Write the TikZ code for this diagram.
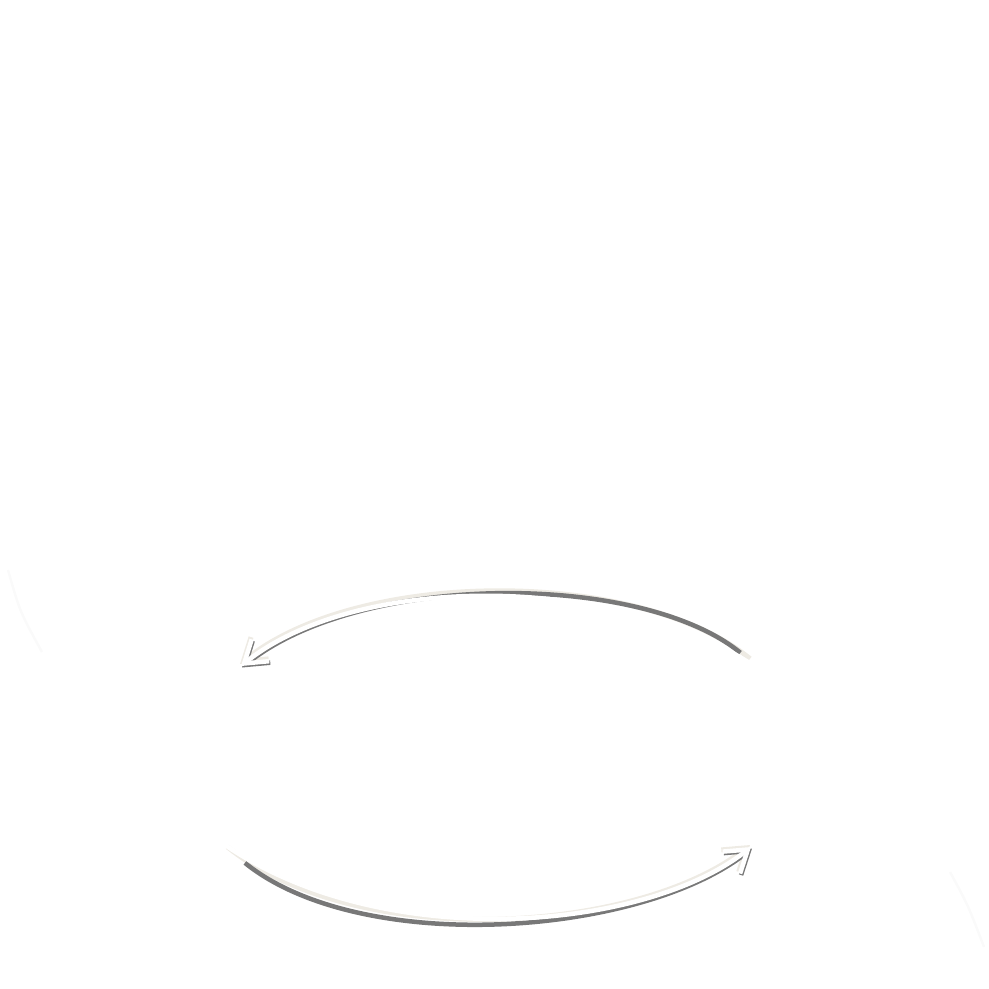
\documentclass[tikz,border=0pt]{standalone}
\usetikzlibrary{arrows.meta}
\definecolor{rimcol}{RGB}{238,235,228}
\definecolor{shadowcol}{RGB}{120,120,120}
\begin{document}
\begin{tikzpicture}[x=0.1mm, y=-0.1mm, >={Straight Barb[length=2.1mm, width=2.8mm]},
    rimline/.style={line width=0.5mm, rimcol, transform canvas={xshift=-0.1mm, yshift=0.2mm}},
    shadowline/.style={line width=0.45mm, shadowcol, transform canvas={xshift=0.1mm, yshift=-0.15mm}},
    arrowline/.style={line width=0.45mm, white},
    faintarc/.style={line width=0.25mm, black!2}]

    \useasboundingbox (0,0) rectangle (989,988);

    \coordinate (TR) at (782,686); % top arrow, start
    \coordinate (TL) at (241,666); % top arrow, tip
    \coordinate (BL) at (205,830); % bottom arrow, start
    \coordinate (BR) at (751,847); % bottom arrow, tip

    % faint arcs at the edges
    \draw[faintarc] (8,570) .. controls (20,612) .. (42,652);
    \draw[faintarc] (950,872) .. controls (968,905) .. (984,947);

    % top arrow: rim, shadow, white band
    \draw[rimline, ->, shorten <=4mm]
        (TR) .. controls (640,570) and (360,570) .. (TL);
    \draw[shadowline, ->, shorten <=5.5mm]
        (TR) .. controls (640,570) and (360,570) .. (TL);
    \draw[arrowline, ->]
        (TR) .. controls (640,570) and (360,570) .. (TL);

    % bottom arrow: rim, shadow, white band
    \draw[rimline, ->, shorten <=3mm]
        (BL) .. controls (360,955) and (640,935) .. (BR);
    \draw[shadowline, ->, shorten <=5mm]
        (BL) .. controls (360,955) and (640,935) .. (BR);
    \draw[arrowline, ->]
        (BL) .. controls (360,955) and (640,935) .. (BR);

\end{tikzpicture}
\end{document}
